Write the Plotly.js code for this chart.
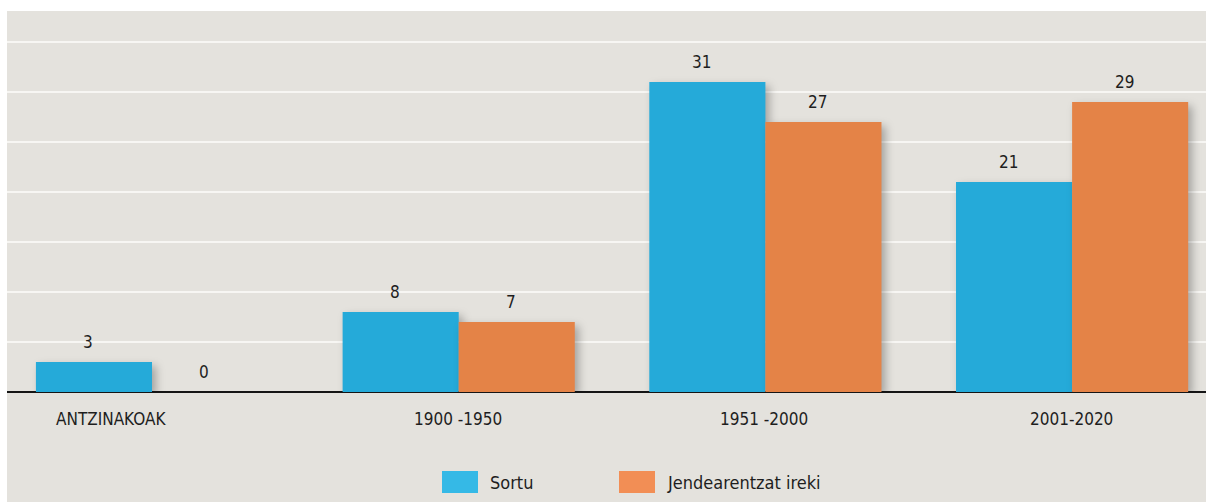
<!DOCTYPE html>
<html>
<head>
<meta charset="utf-8">
<script src="https://cdn.plot.ly/plotly-3.0.1.min.js"></script>
<style>
  html, body { margin: 0; padding: 0; background: #ffffff; width: 1206px; height: 502px; overflow: hidden; }
  #chart { position: absolute; left: 7px; top: 11px; width: 1199px; height: 491px; }
  #chart .trace.bars .point path { filter: drop-shadow(4px 4px 4px rgba(0,0,0,0.28)); }
</style>
</head>
<body>
<div id="chart"></div>
<script>
const categories = ["ANTZINAKOAK", "1900 -1950", "1951 -2000", "2001-2020"];
const seriesNames = ["Sortu", "Jendearentzat ireki"];
const sortu = [3, 8, 31, 21];
const ireki = [0, 7, 27, 29];

const FONT = '"DejaVu Sans Condensed", "Liberation Sans Narrow", sans-serif';
const BLUE = '#25aad9';
const ORANGE = '#e48347';

const traces = [
  { type: 'bar', name: seriesNames[0], x: categories, y: sortu, marker: { color: BLUE }, hoverinfo: 'x+y+name' },
  { type: 'bar', name: seriesNames[1], x: categories, y: ireki, marker: { color: ORANGE }, hoverinfo: 'x+y+name' }
];

const annotations = [];
categories.forEach((c, i) => {
  annotations.push({ x: c, y: sortu[i], xref: 'x', yref: 'y', text: String(sortu[i]), showarrow: false,
    xshift: -64, yshift: 20, yanchor: 'middle', font: { family: FONT, size: 17, color: '#1e1e1e' } });
  annotations.push({ x: c, y: ireki[i], xref: 'x', yref: 'y', text: String(ireki[i]), showarrow: false,
    xshift: 52, yshift: 20, yanchor: 'middle', font: { family: FONT, size: 17, color: '#1e1e1e' } });
  annotations.push({ x: c, y: 0, xref: 'x', yref: 'y', text: c, showarrow: false,
    xshift: i === 0 ? -41 : -1, yshift: -27, yanchor: 'middle', font: { family: FONT, size: 17, color: '#1e1e1e' } });
});

// custom legend (large swatches)
const legendSwatchX = [435, 612];
const legendSwatchColors = ['#35b9e6', '#f28e55'];
const shapes = [];
seriesNames.forEach((n, i) => {
  shapes.push({ type: 'rect', xref: 'paper', yref: 'paper',
    x0: legendSwatchX[i] / 1199, x1: (legendSwatchX[i] + 36) / 1199,
    y0: -(471 - 11 - 381) / 381, y1: -(493 - 11 - 381) / 381,
    fillcolor: legendSwatchColors[i], line: { width: 0 } });
  annotations.push({ xref: 'paper', yref: 'paper', x: (legendSwatchX[i] + 46) / 1199, y: -(482 - 11 - 381) / 381,
    xanchor: 'left', yanchor: 'middle', text: n, showarrow: false,
    font: { family: FONT, size: 18, color: '#1e1e1e' } });
});

const layout = {
  width: 1199, height: 491,
  margin: { l: 0, r: 0, t: 0, b: 110 },
  paper_bgcolor: '#e4e2dd',
  plot_bgcolor: '#e4e2dd',
  barmode: 'group',
  bargap: 0.243,
  bargroupgap: 0,
  showlegend: false,
  font: { family: FONT, color: '#1e1e1e' },
  xaxis: { type: 'category', range: [-0.4728, 3.4366], showticklabels: false, showgrid: false, zeroline: false, ticks: '', fixedrange: true },
  yaxis: { range: [0, 38.1], dtick: 5, showticklabels: false, showgrid: true, gridcolor: '#f7f6f3', gridwidth: 2,
           zeroline: true, zerolinecolor: '#151515', zerolinewidth: 2, ticks: '', fixedrange: true },
  annotations: annotations,
  shapes: shapes
};

Plotly.newPlot('chart', traces, layout, { displayModeBar: false, staticPlot: true });
</script>
</body>
</html>
